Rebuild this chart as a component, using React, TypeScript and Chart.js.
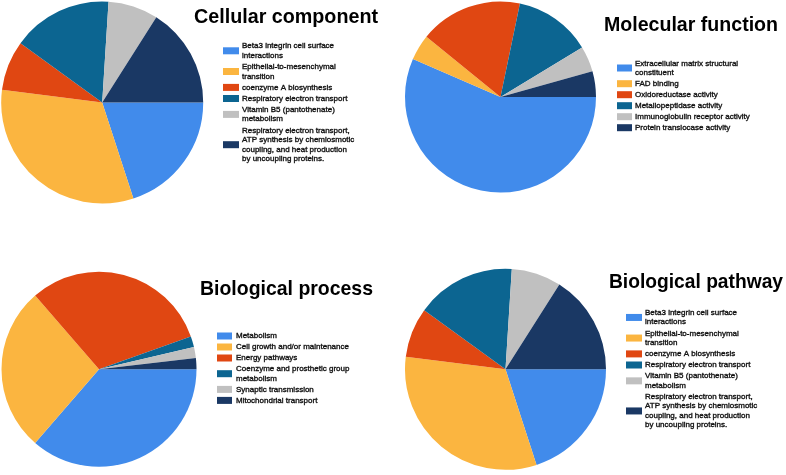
import React, { useEffect, useRef } from "react";
import { Chart, registerables } from "chart.js";

Chart.register(...registerables);

const sliceColors = ["#418BEB", "#FBB540", "#E04712", "#0C6591", "#C0C0C0", "#1A3864"];

const cellularTitle = "Cellular component";
const cellularLabels = [
  "Beta3 integrin cell surface\ninteractions",
  "Epithelial-to-mesenchymal\ntransition",
  "coenzyme A biosynthesis",
  "Respiratory electron transport",
  "Vitamin B5 (pantothenate)\nmetabolism",
  "Respiratory electron transport,\nATP synthesis by chemiosmotic\ncoupling, and heat production\nby uncoupling proteins.",
];
const cellularValues = [5, 8, 2, 4, 2, 4];

const molecularTitle = "Molecular function";
const molecularLabels = [
  "Extracellular matrix structural\nconstituent",
  "FAD binding",
  "Oxidoreductase activity",
  "Metallopeptidase activity",
  "Immunoglobulin receptor activity",
  "Protein translocase activity",
];
const molecularValues = [13, 1, 4, 3, 1, 1];

const processTitle = "Biological process";
const processLabels = [
  "Metabolism",
  "Cell growth and/or maintenance",
  "Energy pathways",
  "Coenzyme and prosthetic group\nmetabolism",
  "Synaptic transmission",
  "Mitochondrial transport",
];
const processValues = [20, 15, 17, 1, 1, 1];

const pathwayTitle = "Biological pathway";
const pathwayLabels = [
  "Beta3 integrin cell surface\ninteractions",
  "Epithelial-to-mesenchymal\ntransition",
  "coenzyme A biosynthesis",
  "Respiratory electron transport",
  "Vitamin B5 (pantothenate)\nmetabolism",
  "Respiratory electron transport,\nATP synthesis by chemiosmotic\ncoupling, and heat production\nby uncoupling proteins.",
];
const pathwayValues = [5, 8, 2, 4, 2, 4];

const W = 786;
const H = 475;

type Layout = {
  cx: number; cy: number; r: number;
  titleX: number; titleY: number; titleW: number;
  boxX: number; boxW: number; boxH: number; textX: number;
  firstY: number; lineH: number; gap: number;
};

const panels: { title: string; labels: string[]; values: number[]; layout: Layout }[] = [
  {
    title: cellularTitle, labels: cellularLabels, values: cellularValues,
    layout: { cx: 102.2, cy: 102.5, r: 101, titleX: 194, titleY: 22.7, titleW: 184, boxX: 223, boxW: 16, boxH: 7, textX: 242, firstY: 46, lineH: 9.6, gap: 1.5 },
  },
  {
    title: molecularTitle, labels: molecularLabels, values: molecularValues,
    layout: { cx: 500.5, cy: 97, r: 95.5, titleX: 604, titleY: 30.7, titleW: 174, boxX: 617, boxW: 15, boxH: 7, textX: 635, firstY: 63.3, lineH: 9.4, gap: 1.6 },
  },
  {
    title: processTitle, labels: processLabels, values: processValues,
    layout: { cx: 99, cy: 369.2, r: 97.5, titleX: 200, titleY: 295.3, titleW: 173, boxX: 217, boxW: 15, boxH: 7, textX: 236, firstY: 336, lineH: 9.4, gap: 1.6 },
  },
  {
    title: pathwayTitle, labels: pathwayLabels, values: pathwayValues,
    layout: { cx: 505.5, cy: 369.3, r: 100.5, titleX: 609, titleY: 287.7, titleW: 174, boxX: 626, boxW: 16, boxH: 7, textX: 645, firstY: 312.7, lineH: 9.5, gap: 1.6 },
  },
];

function makePanelPlugin(title: string, L: Layout) {
  return {
    id: "panelDecor",
    afterDraw(chart: any) {
      const ctx: CanvasRenderingContext2D = chart.ctx;
      ctx.save();
      ctx.fillStyle = "#000";
      ctx.textBaseline = "alphabetic";
      ctx.textAlign = "left";
      ctx.font = "bold 20.5px 'Liberation Sans', Arial, sans-serif";
      ctx.fillText(title, L.titleX, L.titleY, L.titleW);

      const labels: string[] = chart.data.labels;
      const colors: string[] = chart.data.datasets[0].backgroundColor;
      ctx.font = "8px 'Liberation Sans', Arial, sans-serif";
      ctx.textBaseline = "middle";
      ctx.lineWidth = 0.35;
      ctx.strokeStyle = "#111";
      let y = L.firstY;
      labels.forEach((lab, i) => {
        const lines = lab.split("\n");
        const first = y;
        lines.forEach((ln, j) => {
          ctx.fillStyle = "#111";
          ctx.fillText(ln, L.textX, y);
          ctx.strokeText(ln, L.textX, y);
          if (j < lines.length - 1) y += L.lineH;
        });
        const mid = (first + y) / 2;
        ctx.fillStyle = colors[i];
        ctx.fillRect(L.boxX, mid - L.boxH / 2, L.boxW, L.boxH);
        y += L.lineH + L.gap;
      });
      ctx.restore();
    },
  };
}

function PiePanel({ idx }: { idx: number }) {
  const ref = useRef<HTMLCanvasElement | null>(null);
  useEffect(() => {
    const p = panels[idx];
    const L = p.layout;
    const chart = new Chart(ref.current as HTMLCanvasElement, {
      type: "pie",
      data: {
        labels: p.labels,
        datasets: [
          { data: p.values, backgroundColor: sliceColors, borderWidth: 0 },
        ],
      },
      options: {
        responsive: false,
        animation: false,
        devicePixelRatio: 1,
        rotation: 90,
        layout: {
          padding: {
            left: L.cx - L.r,
            top: L.cy - L.r,
            right: W - (L.cx + L.r),
            bottom: H - (L.cy + L.r),
          },
        },
        plugins: {
          legend: { display: false },
          tooltip: { enabled: false },
          title: { display: false },
        },
      } as any,
      plugins: [makePanelPlugin(p.title, L)],
    });
    return () => chart.destroy();
  }, [idx]);
  return (
    <canvas
      ref={ref}
      width={W}
      height={H}
      style={{ position: "absolute", left: 0, top: 0, width: W, height: H }}
    />
  );
}

export default function App() {
  return (
    <div style={{ position: "absolute", left: 0, top: 0, width: W, height: H, background: "#fff" }}>
      {panels.map((_, i) => (
        <PiePanel key={i} idx={i} />
      ))}
    </div>
  );
}
